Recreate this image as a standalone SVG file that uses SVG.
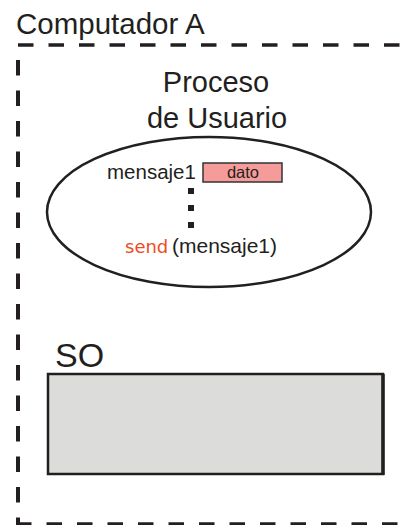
<svg xmlns="http://www.w3.org/2000/svg" width="403" height="525" viewBox="0 0 403 525">
<style>
.t{font-family:"Liberation Sans",Arial,sans-serif;fill:#231f20}
.dash{stroke:#231f20;fill:none;stroke-dasharray:15.5 15}
</style>
<rect width="403" height="525" fill="#ffffff"/>
<g id="computador">
<line class="dash" x1="18" y1="45" x2="403" y2="45" stroke-width="3.5"/>
<line class="dash" x1="18" y1="60" x2="18" y2="524" stroke-width="4"/>
<line class="dash" x1="16" y1="524" x2="403" y2="524" stroke-width="3.5"/>
<text class="t" x="16" y="34" font-size="29.5">Computador A</text>
</g>
<g id="proceso">
<text class="t" x="216" y="92" font-size="29" text-anchor="middle">Proceso</text>
<text class="t" x="217" y="128" font-size="29" text-anchor="middle">de Usuario</text>
<ellipse cx="209" cy="212" rx="162" ry="75" fill="#ffffff" stroke="#231f20" stroke-width="2.5"/>
<text class="t" x="107" y="179" font-size="20.5">mensaje1</text>
<rect x="203" y="163" width="79" height="19" fill="#f59b9a" stroke="#333333" stroke-width="1.5"/>
<text class="t" x="243" y="178" font-size="16.5" text-anchor="middle">dato</text>
<rect x="188" y="188" width="6" height="6" fill="#231f20"/>
<rect x="188" y="205" width="6" height="6" fill="#231f20"/>
<rect x="188" y="222" width="6" height="6" fill="#231f20"/>
<text x="125" y="253" font-size="18" font-family="'DejaVu Sans',Verdana,sans-serif" fill="#ef4b23">send</text>
<text class="t" x="172" y="253" font-size="21">(mensaje1)</text>
</g>
<g id="so">
<text class="t" x="55" y="367" font-size="34">SO</text>
<rect x="48" y="374" width="335" height="100" fill="#dcdcda" stroke="#231f20" stroke-width="2.5"/>
<line x1="383" y1="374" x2="383" y2="475" stroke="#231f20" stroke-width="3.5"/>
</g>
</svg>
